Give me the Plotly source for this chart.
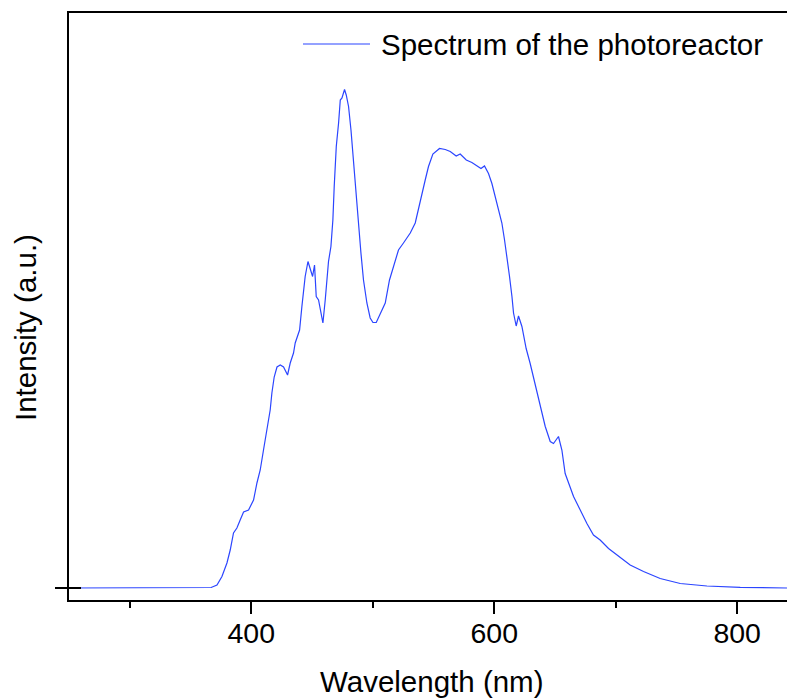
import plotly.graph_objects as go

# Wavelength (nm) and intensity (a.u., normalised)
wavelength = [250, 300, 350, 362, 367, 371.8, 375.9, 380.0, 382.7, 385.4, 388.2, 390.9, 393.7, 397.8,
              401.9, 404.7, 407.4, 410.1, 412.9, 415.6, 417.0, 418.9, 421.2, 423.9, 426.6, 429.9,
              432.1, 434.8, 436.2, 439.8, 441.7, 443.0, 444.4, 446.7, 448.6, 450.5, 452.1, 453.5,
              455.4, 457.6, 459.0, 460.9, 463.6, 465.6, 467.2, 468.3, 470.0, 471.9, 473.3, 474.7,
              476.0, 476.8, 478.2, 480.1, 482.1, 484.2, 486.4, 488.3, 490.3, 492.4, 495.2, 497.9,
              500.2, 502.9, 506.2, 510.3, 513.8, 517.1, 521.2, 525.3, 530.9, 535.0, 539.1, 543.2,
              545.9, 549.5, 555.0, 559.7, 563.8, 568.7, 572.0, 577.0, 581.6, 587.1, 589.1, 592.0,
              595.3, 598.1, 600.8, 603.5, 606.3, 608.5, 610.5, 612.6, 614.6, 615.9, 618.1, 620.0,
              622.8, 626.3, 629.6, 633.7, 637.9, 642.0, 646.1, 648.8, 652.9, 655.7, 658.4, 661.2,
              665.3, 670.8, 676.3, 681.7, 687.2, 694.1, 701.0, 711.9, 722.9, 736.6, 753.1, 775.1,
              802.5, 835.4, 841]
intensity = [0.0, 0.0, 0.0, 0.0, 0.001, 0.006, 0.023, 0.050, 0.076, 0.110, 0.120, 0.136, 0.152, 0.156,
             0.176, 0.210, 0.236, 0.276, 0.316, 0.356, 0.390, 0.422, 0.442, 0.446, 0.442, 0.426,
             0.450, 0.470, 0.490, 0.516, 0.563, 0.596, 0.623, 0.653, 0.636, 0.623, 0.646, 0.583,
             0.576, 0.550, 0.530, 0.576, 0.653, 0.683, 0.736, 0.803, 0.883, 0.930, 0.976, 0.980,
             0.993, 0.997, 0.986, 0.963, 0.916, 0.850, 0.783, 0.730, 0.670, 0.616, 0.570, 0.540,
             0.531, 0.531, 0.548, 0.570, 0.616, 0.643, 0.676, 0.690, 0.710, 0.730, 0.770, 0.816,
             0.843, 0.868, 0.879, 0.877, 0.873, 0.864, 0.868, 0.856, 0.851, 0.843, 0.839, 0.844,
             0.829, 0.809, 0.783, 0.756, 0.730, 0.696, 0.663, 0.623, 0.583, 0.550, 0.524, 0.544,
             0.523, 0.479, 0.449, 0.409, 0.363, 0.323, 0.293, 0.289, 0.303, 0.276, 0.229, 0.209,
             0.183, 0.156, 0.129, 0.106, 0.096, 0.079, 0.066, 0.046, 0.033, 0.019, 0.009, 0.004,
             0.0014, 0.0, 0.0]

series_name = "Spectrum of the photoreactor"
x_title = "Wavelength (nm)"
y_title = "Intensity (a.u.)"

LINE_COLOR = "#2b45ff"
FONT = "Liberation Sans, Arial, sans-serif"

W, H = 787, 698
ML, MR, MT, MB = 69, 0, 13, 98
PW, PH = W - ML - MR, H - MT - MB

def px_x(px):
    return (px - ML) / PW

def px_y(py):
    return (H - MB - py) / PH

fig = go.Figure()
fig.add_trace(go.Scatter(x=wavelength, y=intensity, mode="lines",
                         line=dict(color=LINE_COLOR, width=1.2),
                         name=series_name, showlegend=False))

fig.update_layout(
    width=W, height=H,
    margin=dict(l=ML, r=MR, t=MT, b=MB, pad=0),
    paper_bgcolor="white", plot_bgcolor="white",
    font=dict(family=FONT, color="black", size=28),
    showlegend=False,
)

fig.update_xaxes(
    range=[250, 841], showgrid=False, zeroline=False,
    showline=True, linecolor="black", linewidth=2, mirror=True,
    ticks="outside", ticklen=12, tickwidth=2, tickcolor="black",
    tick0=400, dtick=200, ticklabelstandoff=-5,
    minor=dict(ticks="outside", ticklen=6, tickwidth=2, tickcolor="black", dtick=100, tick0=300),
    tickfont=dict(size=28.5, family=FONT, color="black"),
)
fig.update_yaxes(
    range=[-0.024, 1.15], showgrid=False, zeroline=False,
    showline=True, linecolor="black", linewidth=2, mirror=False,
    ticks="outside", ticklen=12, tickwidth=2, tickcolor="black",
    tickvals=[0], showticklabels=False,
)

# inner half of the y tick at 0
fig.add_shape(type="line", xref="x", yref="y", xsizemode="pixel", xanchor=250,
              x0=0, x1=12, y0=0, y1=0, line=dict(color="black", width=2))

# legend drawn manually (sample line + label)
fig.add_shape(type="line", xref="paper", yref="paper",
              x0=px_x(303), x1=px_x(370), y0=px_y(44), y1=px_y(44),
              line=dict(color=LINE_COLOR, width=1.2))
fig.add_annotation(x=px_x(379), y=px_y(44), xref="paper", yref="paper",
                   text=series_name, showarrow=False, xanchor="left", yanchor="middle",
                   font=dict(size=29.5, family=FONT, color="black"))

# axis titles
fig.add_annotation(x=px_x(432), y=px_y(682), xref="paper", yref="paper",
                   text=x_title, showarrow=False, xanchor="center", yanchor="middle",
                   font=dict(size=29.5, family=FONT, color="black"))
fig.add_annotation(x=px_x(25), y=px_y(328), xref="paper", yref="paper",
                   text=y_title, showarrow=False, textangle=-90,
                   xanchor="center", yanchor="middle",
                   font=dict(size=29.5, family=FONT, color="black"))

fig.write_html("out.html")
